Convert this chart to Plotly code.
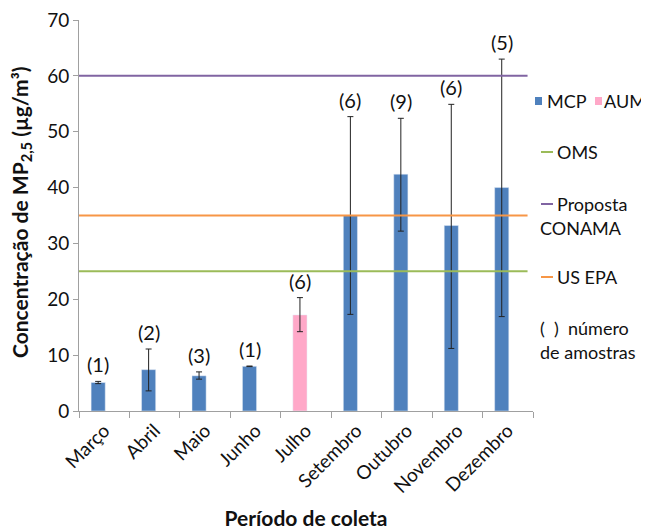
import plotly.graph_objects as go

# ---- data ----
months = ["Março", "Abril", "Maio", "Junho", "Julho", "Setembro", "Outubro", "Novembro", "Dezembro"]
mcp_values = [5.1, 7.4, 6.3, 8.0, None, 35.0, 42.4, 33.2, 40.0]
mcp_err_plus = [0.2, 3.7, 0.7, 0.05, None, 17.7, 10.0, 21.7, 23.0]
mcp_err_minus = [0.2, 3.8, 0.6, 0.05, None, 17.7, 10.2, 22.0, 23.1]
aum_values = [None, None, None, None, 17.2, None, None, None, None]
aum_err_plus = [None, None, None, None, 3.1, None, None, None, None]
aum_err_minus = [None, None, None, None, 3.0, None, None, None, None]
n_samples = ["(1)", "(2)", "(3)", "(1)", "(6)", "(6)", "(9)", "(6)", "(5)"]
limit_oms = 25
limit_conama = 60
limit_usepa = 35

FONT = "Lato, 'Open Sans', sans-serif"
BLUE = "#4F81BD"
PINK = "#FFA8C8"
GREEN = "#9BBB59"
PURPLE = "#8064A2"
ORANGE = "#F79646"

OFF = 8  # page body margin
WIN_W, WIN_H = 649, 530
W, H = WIN_W - OFF, WIN_H - OFF
# plot area in window pixels: x 79..533, y 20..411
L, T = 79 - OFF, 20 - OFF
R = W - (533 - OFF)
B = H - (411 - OFF)
PW, PH = W - L - R, H - T - B


def px(x):
    return (x - OFF - L) / PW


def py(y):
    return (H - B - (y - OFF)) / PH


fig = go.Figure()

bar_w = 0.28
bar_off = -0.26

fig.add_trace(go.Bar(
    x=months, y=mcp_values, name="MCP", marker_color=BLUE,
    width=bar_w, offset=bar_off,
    error_y=dict(type="data", array=mcp_err_plus, arrayminus=mcp_err_minus,
                 color="#222222", thickness=1, width=3),
    showlegend=False,
))
fig.add_trace(go.Bar(
    x=months, y=aum_values, name="AUM", marker_color=PINK,
    width=bar_w, offset=bar_off,
    error_y=dict(type="data", array=aum_err_plus, arrayminus=aum_err_minus,
                 color="#222222", thickness=1, width=3),
    showlegend=False,
))

# reference lines
for val, col in [(limit_conama, PURPLE), (limit_usepa, ORANGE), (limit_oms, GREEN)]:
    fig.add_shape(type="line", xref="paper", yref="y", x0=0, x1=0.988, y0=val, y1=val,
                  line=dict(color=col, width=2))

# sample count labels
for i, m in enumerate(months):
    v = mcp_values[i] if mcp_values[i] is not None else aum_values[i]
    ep = mcp_err_plus[i] if mcp_err_plus[i] is not None else aum_err_plus[i]
    fig.add_annotation(x=m, y=v + ep, text=n_samples[i], showarrow=False,
                       xanchor="center", yanchor="middle",
                       xshift=-6, yshift=17, font=dict(family=FONT, size=20, color="#111111"))

# y-axis title
fig.add_annotation(xref="paper", yref="paper", x=px(21), y=py(213), textangle=-90,
                   xanchor="center", yanchor="middle",
                   text="<b>Concentração de MP<sub>2,5</sub> (µg/m³)</b>", showarrow=False,
                   font=dict(family=FONT, size=21, color="#111111"))

# custom legend
legend_font = dict(family=FONT, size=18, color="#111111")


def legend_text(x, y, text):
    fig.add_annotation(xref="paper", yref="paper", x=px(x), y=py(y), text=text,
                       xanchor="left", yanchor="middle", showarrow=False,
                       font=legend_font, borderpad=0)


fig.add_shape(type="rect", xref="paper", yref="paper", x0=px(535), x1=px(542), y0=py(97), y1=py(105),
              fillcolor=BLUE, line_width=0)
legend_text(546, 101, "MCP")
fig.add_shape(type="rect", xref="paper", yref="paper", x0=px(595), x1=px(602), y0=py(97), y1=py(105),
              fillcolor=PINK, line_width=0)
legend_text(603, 101, "AUM")

for ytxt, col, label in [(152, GREEN, "OMS"), (204, PURPLE, "Proposta"), (277, ORANGE, "US EPA")]:
    fig.add_shape(type="line", xref="paper", yref="paper", x0=px(541), x1=px(553), y0=py(ytxt), y1=py(ytxt),
                  line=dict(color=col, width=2))
    legend_text(556, ytxt, label)
legend_text(539, 228, "CONAMA")
legend_text(539, 328, "(  )  número")
legend_text(539, 352, "de amostras")

fig.update_layout(
    width=W, height=H,
    margin=dict(l=L, r=R, t=T, b=B, pad=0, autoexpand=False),
    paper_bgcolor="white", plot_bgcolor="white",
    barmode="overlay",
    font=dict(family=FONT, size=16, color="#111111"),
    showlegend=False,
)
fig.update_xaxes(
    type="category", tickangle=-45, tickson="boundaries", automargin=False,
    showline=True, linecolor="#A0A0A0", linewidth=1,
    ticks="outside", ticklen=6, tickcolor="#A0A0A0",
    tickfont=dict(family=FONT, size=19, color="#111111"),
    ticklabeloverflow="allow",
    showgrid=False,
    title=dict(text="<b>Período de coleta</b>", font=dict(family=FONT, size=21, color="#111111"), standoff=16),
)
fig.update_yaxes(
    range=[0, 70], dtick=10, automargin=False,
    showline=True, linecolor="#A0A0A0", linewidth=1,
    ticks="outside", ticklen=5, tickcolor="#A0A0A0",
    tickfont=dict(family=FONT, size=19, color="#111111"),
    ticklabeloverflow="allow",
    showgrid=False, zeroline=False,
)

fig.write_html("out.html")
